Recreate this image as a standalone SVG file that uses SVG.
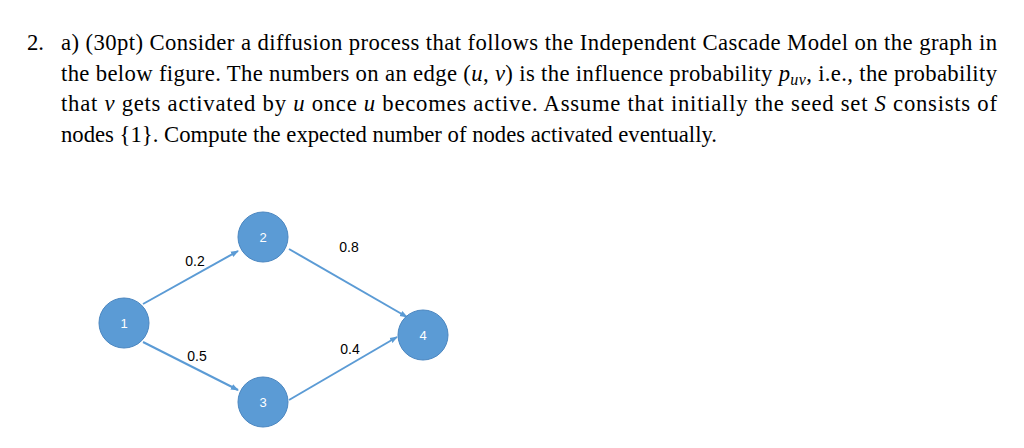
<svg xmlns="http://www.w3.org/2000/svg" width="1024" height="448" viewBox="0 0 1024 448">
<style>
.t{font-family:"Liberation Serif",serif;font-size:22.7px;fill:#000}
.i{font-style:italic}
.n{fill:#5b9bd5;stroke:#4a86c0;stroke-width:1}
.nl{font-family:"Liberation Sans",sans-serif;font-size:13px;fill:#fff;text-anchor:middle}
.el{font-family:"Liberation Sans",sans-serif;font-size:14px;fill:#000;text-anchor:middle}
.e{stroke:#5b9bd5;stroke-width:2;fill:none;marker-end:url(#a)}
</style>
<defs><marker id="a" markerWidth="8" markerHeight="8" refX="7" refY="4" orient="auto" markerUnits="userSpaceOnUse"><path d="M0,1 L8,4 L0,7 Z" fill="#5b9bd5"/></marker></defs>
<rect width="1024" height="448" fill="#fff"/>
<g id="text">
<text class="t" x="27" y="50">2.</text>
<text class="t" x="61" y="50" textLength="936" lengthAdjust="spacing">a) (30pt) Consider a diffusion process that follows the Independent Cascade Model on the graph in</text>
<text class="t" x="61" y="81" textLength="936" lengthAdjust="spacing">the below figure. The numbers on an edge (<tspan class="i">u</tspan>, <tspan class="i">v</tspan>) is the influence probability <tspan class="i">p</tspan><tspan class="i" font-size="16" dy="4">uv</tspan><tspan dy="-4">, i.e., the probability</tspan></text>
<text class="t" x="61" y="111" textLength="936" lengthAdjust="spacing">that   <tspan class="i">v</tspan> gets activated by <tspan class="i">u</tspan> once <tspan class="i">u</tspan> becomes active. Assume that initially the seed set <tspan class="i">S</tspan> consists of</text>
<text class="t" x="61" y="142">nodes {1}. Compute the expected number of nodes activated eventually.</text>
</g>
<g id="connectors">
<line class="e" x1="143" y1="304" x2="238" y2="251"/>
<line class="e" x1="289" y1="249" x2="407" y2="317"/>
<line class="e" x1="143" y1="342" x2="238" y2="390"/>
<line class="e" x1="289" y1="400" x2="397" y2="337"/>
<text class="el" x="195" y="266">0.2</text>
<text class="el" x="349" y="252">0.8</text>
<text class="el" x="197" y="361">0.5</text>
<text class="el" x="350" y="354">0.4</text>
</g>
<g id="n1"><circle class="n" cx="124" cy="323" r="25"/><text class="nl" x="124" y="328">1</text></g>
<g id="n2"><circle class="n" cx="263" cy="237" r="25"/><text class="nl" x="263" y="242">2</text></g>
<g id="n3"><circle class="n" cx="263" cy="402" r="25"/><text class="nl" x="263" y="407">3</text></g>
<g id="n4"><circle class="n" cx="423" cy="335" r="25"/><text class="nl" x="423" y="340">4</text></g>
</svg>
